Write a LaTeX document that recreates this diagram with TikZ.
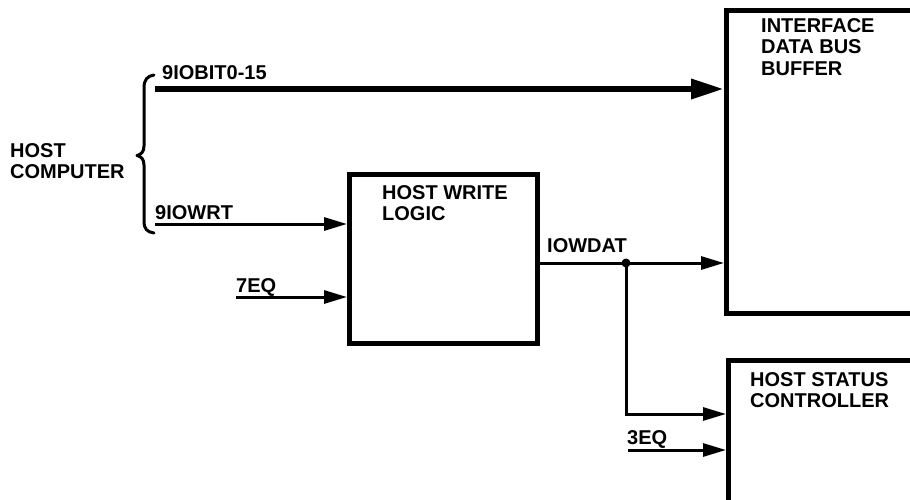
\documentclass[tikz,border=0pt]{standalone}
\usepackage{fontspec}
\setmainfont{Liberation Sans}
\usetikzlibrary{arrows.meta}
\begin{document}
\begin{tikzpicture}[x=1pt,y=-1pt,
  box/.style={draw, line width=5pt, rectangle, inner sep=0pt, outer sep=0pt, anchor=north west},
  lbl/.style={font=\bfseries\fontsize{20}{21.5}\selectfont, inner sep=0pt, align=left, anchor=north west},
  sig/.style={line width=3pt, -{Triangle[length=23pt,width=13pt]}, shorten >=2pt},
  bus/.style={line width=6.5pt, -{Triangle[length=33pt,width=19pt]}, shorten >=2pt},
  brace/.style={line width=3pt, line cap=round, line join=round}
  ]
\useasboundingbox (0,0) rectangle (910,500);
\clip (0,0) rectangle (910,500);
% boxes
\node[box, minimum width=188pt, minimum height=169pt] (hwl) at (349,174) {};
\node[box, minimum width=240pt, minimum height=302pt] (idbb) at (726,11) {};
\node[box, minimum width=240pt, minimum height=200pt] (hsc) at (728,360) {};
% box texts
\node[lbl] (t1) at (761,18) {INTERFACE\\DATA BUS\\BUFFER};
\node[lbl] (t2) at (382,185) {HOST WRITE\\LOGIC};
\node[lbl] (t3) at (750,372) {HOST STATUS\\CONTROLLER};
\node[lbl] (hc) at (10,143) {HOST\\COMPUTER};
% signal labels
\node[lbl] (l1) at (162,65) {9IOBIT0-15};
\node[lbl] (l2) at (155,205) {9IOWRT};
\node[lbl] (l3) at (236,278) {7EQ};
\node[lbl] (l4) at (547,238) {IOWDAT};
\node[lbl] (l5) at (627,430) {3EQ};
% connectors
\coordinate (busin) at (155,89);
\draw[bus] (busin) -- (busin -| idbb.west);
\coordinate (wrtin) at (155,224);
\draw[sig] (wrtin) -- (wrtin -| hwl.west);
\coordinate (eq7) at (236,297);
\draw[sig] (eq7) -- (eq7 -| hwl.west);
\coordinate (dot) at (626,263);
\draw[sig] (hwl.east |- dot) -- (dot -| idbb.west);
\coordinate (corner) at (626,414);
\draw[sig] (dot) -- (corner) -- (corner -| hsc.west);
\fill (dot) circle (4.5pt);
\coordinate (eq3) at (628,450);
\draw[sig] (eq3) -- (eq3 -| hsc.west);
% brace
\draw[brace] (154,75) .. controls (147,76) and (144,80) .. (144,88) -- (144,146)
  .. controls (144,152) and (141,154.5) .. (137,155.5)
  .. controls (141,156.5) and (144,159) .. (144,165) -- (144,221)
  .. controls (144,229) and (147,232) .. (154,233);
\end{tikzpicture}
\end{document}
